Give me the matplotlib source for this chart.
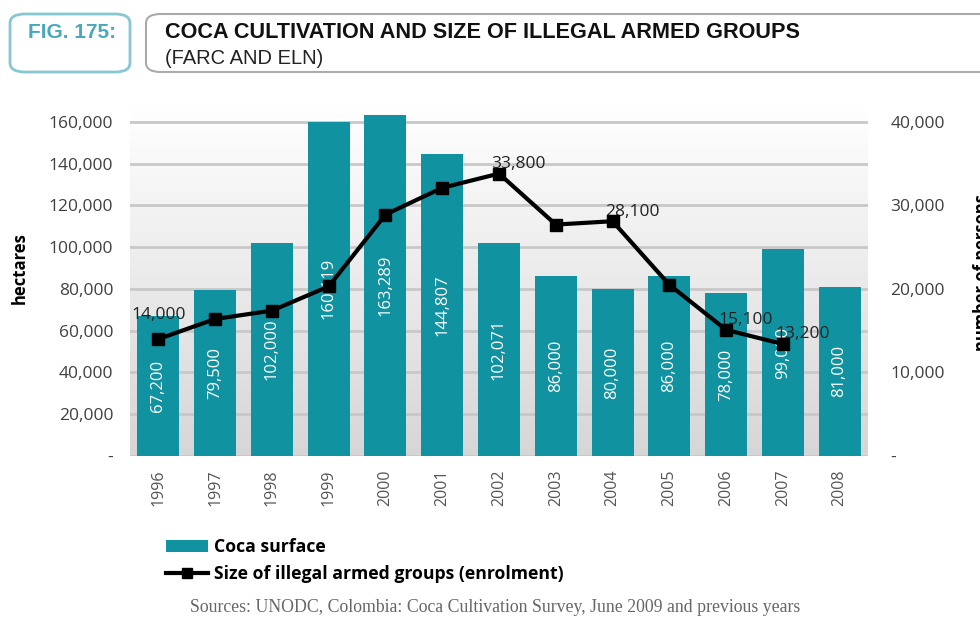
import numpy as np
import matplotlib
matplotlib.use('Agg')
import matplotlib.pyplot as plt
from matplotlib.patches import FancyBboxPatch, Patch
from matplotlib.lines import Line2D
from matplotlib.ticker import FuncFormatter, MultipleLocator

years = ['1996', '1997', '1998', '1999', '2000', '2001', '2002',
         '2003', '2004', '2005', '2006', '2007', '2008']
coca_surface = [67200, 79500, 102000, 160119, 163289, 144807, 102071,
                86000, 80000, 86000, 78000, 99000, 81000]
armed_groups = [14000, 16400, 17400, 20300, 28900, 32100, 33800,
                27700, 28100, 20500, 15100, 13400]
# only some points of the line carry a label
line_labels = {0: '14,000', 6: '33,800', 8: '28,100', 10: '15,100', 11: '13,200'}

bar_color = '#1192a0'
num_font = ['Open Sans', 'DejaVu Sans']
plt.rcParams['font.family'] = num_font


def thousands(v, pos):
    if v == 0:
        return '-'
    return f'{int(v):,}'


fig = plt.figure(figsize=(9.8, 6.2), dpi=100)
ax = fig.add_axes([0.1327, 0.2645, 0.753, 0.566])

x = np.arange(len(years))
ax.set_xlim(-0.5, len(years) - 0.5)
ax.set_ylim(0, 168000)

# gradient plot background
grad = np.linspace(1, 0, 256).reshape(-1, 1)
ax.imshow(grad, extent=[0, 1, 0, 1], transform=ax.transAxes, aspect='auto',
          cmap=matplotlib.colors.LinearSegmentedColormap.from_list('bg', ['#d6d6d6', '#ffffff']),
          zorder=0)

ax.yaxis.set_major_locator(MultipleLocator(20000))
ax.yaxis.set_major_formatter(FuncFormatter(thousands))
ax.grid(axis='y', color='#c8c8c8', linewidth=2, zorder=1)
ax.set_axisbelow(True)

bars = ax.bar(x, coca_surface, width=0.74, color=bar_color, zorder=2)
for xi, v in zip(x, coca_surface):
    ax.text(xi, v / 2, f'{v:,}', rotation=90, ha='center', va='center',
            color='white', fontsize=12, zorder=3)

ax.set_xticks(x)
ax.set_xticklabels(years, rotation=90, fontsize=11.5, color='#555555')
ax.tick_params(axis='x', length=0, pad=10)
ax.tick_params(axis='y', length=0, pad=12, labelsize=12.5, labelcolor='#404040')
for s in ax.spines.values():
    s.set_visible(False)
ax.set_ylabel('hectares', fontsize=12, fontweight='bold')
ax.yaxis.set_label_coords(-0.137, 0.536)

ax2 = ax.twinx()
ax2.set_ylim(0, 42000)
ax2.yaxis.set_major_locator(MultipleLocator(10000))
ax2.yaxis.set_major_formatter(FuncFormatter(thousands))
ax2.tick_params(axis='y', length=0, pad=16, labelsize=12.5, labelcolor='#404040')
for s in ax2.spines.values():
    s.set_visible(False)
ax2.plot(x[:len(armed_groups)], armed_groups, color='black', linewidth=3,
         marker='s', markersize=8, zorder=4)
for i, txt in line_labels.items():
    off = (0, 17) if i == 0 else (14, 7)
    ax2.annotate(txt, (x[i], armed_groups[i]), textcoords='offset points',
                 xytext=off, ha='center', va='center', fontsize=12.5, color='#222222')

# right axis title, partly cut by the figure edge as in the source
fig.text(973 / 980, 0.56, 'number of persons', rotation=90, ha='left', va='center',
         fontsize=12, fontweight='bold')

# header boxes
fig.patches.append(FancyBboxPatch((10 / 980, 1 - 72 / 620), 120 / 980, 58 / 620,
                                  boxstyle='round,pad=0,rounding_size=0.015',
                                  transform=fig.transFigure, fill=False,
                                  edgecolor='#86c7d2', linewidth=2))
fig.patches.append(FancyBboxPatch((146 / 980, 1 - 72 / 620), 860 / 980, 58 / 620,
                                  boxstyle='round,pad=0,rounding_size=0.015',
                                  transform=fig.transFigure, fill=False,
                                  edgecolor='#aaaaaa', linewidth=1.5))
head_font = ['Liberation Sans Narrow', 'Liberation Sans', 'DejaVu Sans']
fig.text(28 / 980, 1 - 33 / 620, 'FIG. 175:', fontsize=15, fontweight='bold',
         color='#4aa8ba', va='center', ha='left', family=head_font)
fig.text(165 / 980, 1 - 33 / 620, 'COCA CULTIVATION AND SIZE OF ILLEGAL ARMED GROUPS',
         fontsize=15.6, fontweight='bold', color='#111111', va='center', ha='left',
         family=head_font)
fig.text(165 / 980, 1 - 58 / 620, '(FARC AND ELN)', fontsize=14.5, color='#222222',
         va='center', ha='left', family=head_font)

handles = [Patch(facecolor=bar_color, edgecolor='none'),
           Line2D([0], [0], color='black', linewidth=3, marker='s', markersize=7)]
fig.legend(handles, ['Coca surface', 'Size of illegal armed groups (enrolment)'],
           loc='upper left', bbox_to_anchor=(150 / 980, 1 - 522 / 620),
           frameon=False, handlelength=2.4, handletextpad=0.3, labelspacing=0.5,
           prop={'weight': 'bold', 'size': 12.7})

fig.text(495 / 980, 1 - 607 / 620,
         'Sources: UNODC, Colombia: Coca Cultivation Survey, June 2009 and previous years',
         ha='center', va='center', fontsize=12.8, color='#666666', family='Liberation Serif')

plt.savefig('out.png', dpi=100)
plt.close()
